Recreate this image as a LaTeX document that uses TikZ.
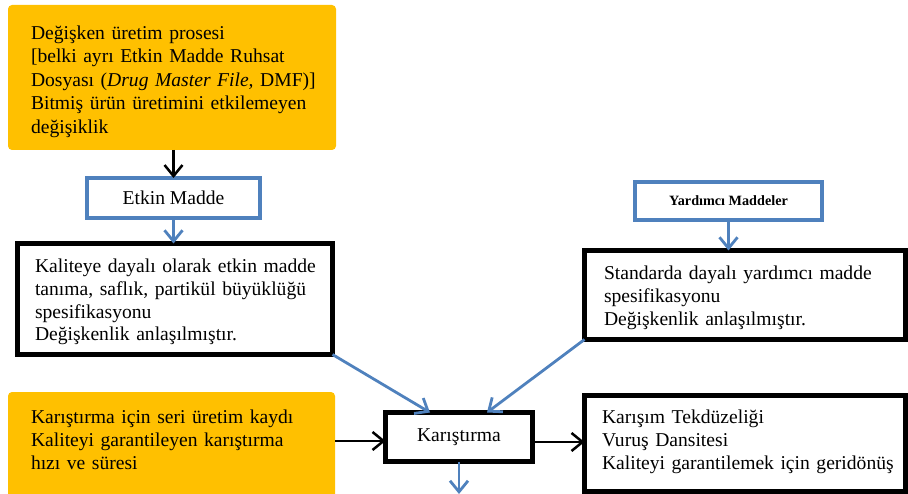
\documentclass[tikz,border=0pt]{standalone}
\usepackage{fontspec}
\setmainfont{Liberation Serif}
\usetikzlibrary{arrows.meta,calc}
\definecolor{boxorange}{HTML}{FFC000}
\definecolor{boxblue}{HTML}{4F81BD}
\begin{document}
\begin{tikzpicture}[x=1pt,y=-1pt,
  every node/.style={outer sep=0pt},
  bodyfont/.style={font=\fontsize{19.6}{22.6}\selectfont},
  fillbox/.style={fill=boxorange, rounded corners=4pt, inner sep=0pt, anchor=north west},
  bluebox/.style={draw=boxblue, line width=4.5pt, fill=white, inner sep=0pt},
  blackbox/.style={draw=black, line width=5.5pt, fill=white, inner sep=0pt},
  bodytext/.style={anchor=base west, inner sep=0pt, text width=320pt, align=left},
  blkarrow/.style={draw=black, line width=2.5pt, -{Straight Barb[length=11pt,width=18pt]}},
  bluarrow/.style={draw=boxblue, line width=2.8pt, -{Straight Barb[length=11pt,width=18pt]}},
]
\useasboundingbox (0,0) rectangle (908,494);
\clip (0,0) rectangle (908,494);

% orange process boxes
\node[fillbox, minimum width=328pt, minimum height=145pt] (o1) at (8,5) {};
\node[fillbox, minimum width=327pt, minimum height=110pt] (o2) at (8,392) {};

% blue headers
\node[bluebox, minimum width=173pt, minimum height=40pt, bodyfont] (etkin) at (173.5,198) {Etkin Madde};
\node[bluebox, minimum width=187pt, minimum height=38pt,
      font=\fontsize{14.2}{17}\selectfont\bfseries] (yard) at (728.5,201) {Yardımcı Maddeler};

% black specification boxes
\node[blackbox, minimum width=315pt, minimum height=111pt] (box1) at (175,299) {};
\node[blackbox, minimum width=321pt, minimum height=89pt] (box2) at (745,295) {};
\node[blackbox, minimum width=147pt, minimum height=49pt, bodyfont] (kar) at (459,437) {Karıştırma};
\node[blackbox, minimum width=321pt, minimum height=96pt] (box3) at (745,443.5) {};

% box texts
\node[bodytext, font=\fontsize{19.6}{23.5}\selectfont] (t1) at (31,39.5)
  {Değişken üretim prosesi\\
   {[}belki ayrı Etkin Madde Ruhsat\\
   Dosyası (\textit{Drug Master File,} DMF)]\\
   Bitmiş ürün üretimini etkilemeyen\\
   değişiklik};
\node[bodytext, bodyfont] (t2) at (35,273)
  {Kaliteye dayalı olarak etkin madde\\
   tanıma, saflık, partikül büyüklüğü\\
   spesifikasyonu\\
   Değişkenlik anlaşılmıştır.};
\node[bodytext, bodyfont] (t3) at (604,280)
  {Standarda dayalı yardımcı madde\\
   spesifikasyonu\\
   Değişkenlik anlaşılmıştır.};
\node[bodytext, font=\fontsize{19.6}{23}\selectfont] (t4) at (31,424)
  {Karıştırma için seri üretim kaydı\\
   Kaliteyi garantileyen karıştırma\\
   hızı ve süresi};
\node[bodytext, font=\fontsize{19.6}{23}\selectfont] (t5) at (602,423.5)
  {Karışım Tekdüzeliği\\
   Vuruş Dansitesi\\
   Kaliteyi garantilemek için geridönüş};

% connectors
\coordinate (out) at (457,494);
\draw[blkarrow] (etkin.north |- o1.south) -- (etkin.north);
\draw[bluarrow] (etkin.south) -- (etkin.south |- box1.north);
\draw[bluarrow] (yard.south) -- (yard.south |- box2.north);
\draw[bluarrow] (box1.south east) -- ([xshift=-29pt]kar.north);
\draw[bluarrow] (box2.south west) -- ([xshift=28pt]kar.north);
\draw[blkarrow] ($(o2.east |- kar.west)+(0,4)$) -- ($(kar.west)+(0,4)$);
\draw[blkarrow] ($(kar.east)+(0,5)$) -- ($(kar.east -| box3.west)+(0,5)$);
\draw[bluarrow] (kar.south) -- (kar.south |- out);
\end{tikzpicture}
\end{document}
